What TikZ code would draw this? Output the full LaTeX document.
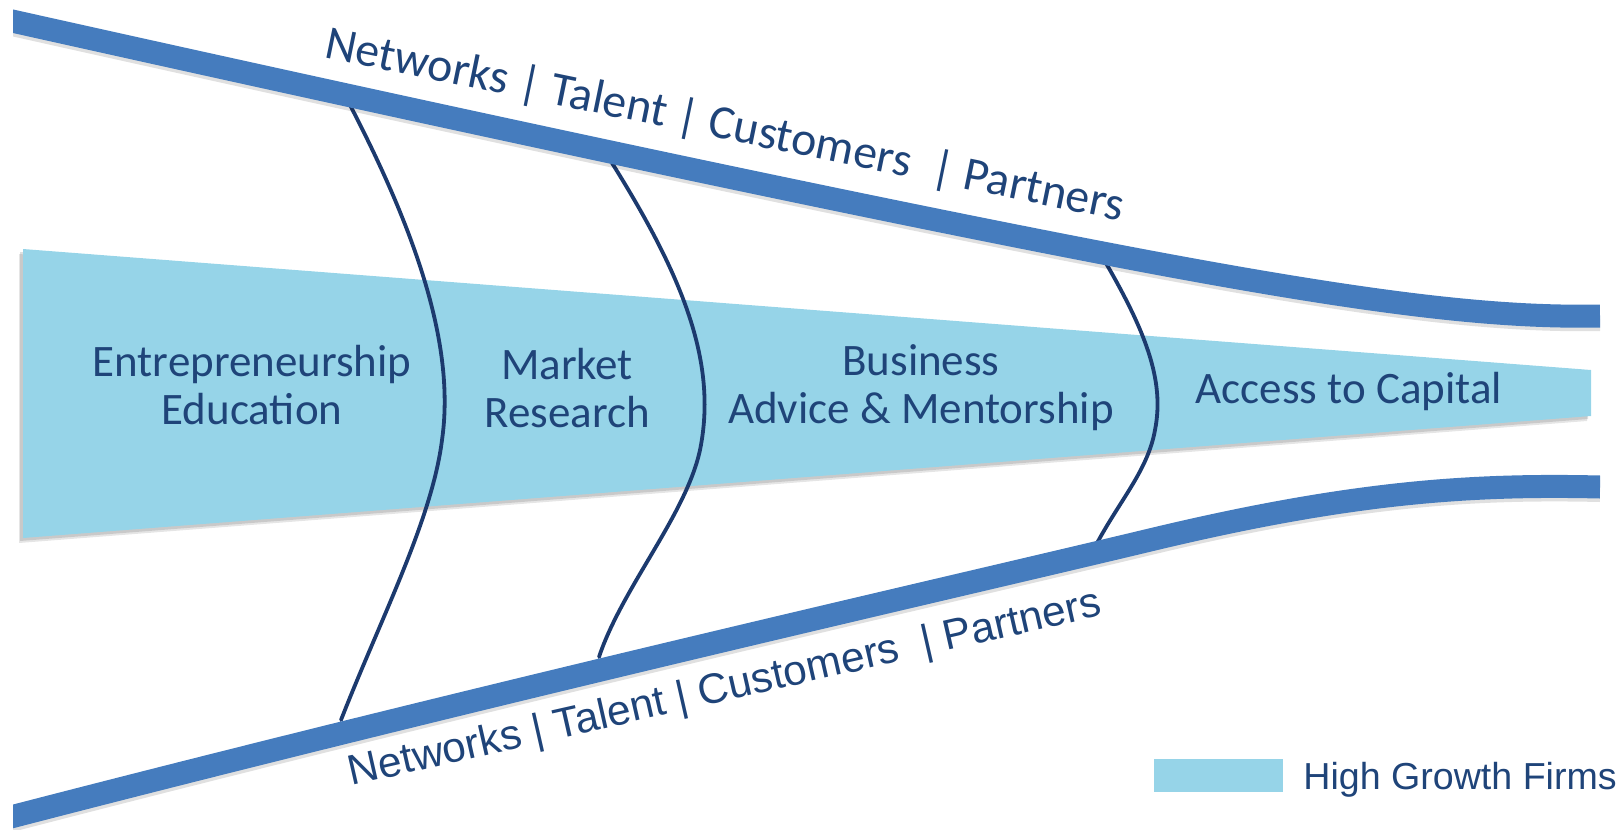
\documentclass[tikz,border=0pt]{standalone}
\usepackage{fontspec}
\setmainfont{Carlito}
\newfontfamily\arialfont{Liberation Sans}
\definecolor{bandblue}{RGB}{69,124,190}
\definecolor{funnelblue}{RGB}{150,212,232}
\definecolor{navy}{RGB}{28,58,110}
\definecolor{textblue}{RGB}{31,68,121}
\begin{document}
\begin{tikzpicture}[x=0.5pt,y=-0.5pt,
  band/.style={draw=bandblue, line width=11.5pt},
  bandshade/.style={draw=black, line width=11pt, opacity=0.12},
  divider/.style={draw=navy, line width=1.9pt, line cap=round},
  stage/.style={text=textblue, font=\fontsize{22.5}{24}\selectfont, align=center, inner sep=0pt},
  flowtext/.style={text=textblue, inner sep=0pt}]

\useasboundingbox (0,0) rectangle (1619,830);

% soft shadow under the funnel
\fill[black, opacity=0.10] (19,254) -- (1587,375) -- (1587,421) -- (19,543) -- cycle;
\fill[black, opacity=0.12] (20,252) -- (1588,373) -- (1588,419) -- (20,541) -- cycle;
% funnel of support stages
\fill[funnelblue] (23,249) -- (1591,370) -- (1591,416) -- (23,538) -- cycle;

% stage dividers
\draw[divider] (350,105) .. controls (420,240) and (455,350) .. (442,440)
                       .. controls (432,520) and (380,620) .. (341,720);
\draw[divider] (612,163) .. controls (682,275) and (718,362) .. (700,450)
                       .. controls (686,515) and (622,588) .. (599,657);
\draw[divider] (1103,258) .. controls (1145,330) and (1165,380) .. (1155,430)
                        .. controls (1148,470) and (1120,500) .. (1096,545);

% upper and lower bands with their shadows
\begin{scope}
  \clip (13,0) rectangle (1600,830);
  \draw[bandshade] (3,23) .. controls (500,134) and (900,219) .. (1150,266)
        .. controls (1380,309) and (1500,322) .. (1600,320);
  \draw[bandshade] (3,823) .. controls (500,694) and (950,592) .. (1150,544)
        .. controls (1350,496) and (1470,488) .. (1600,491);
  \draw[band] (3,19) .. controls (500,130) and (900,215) .. (1150,262)
        .. controls (1380,305) and (1500,318) .. (1600,316);
  \draw[band] (3,819) .. controls (500,690) and (950,588) .. (1150,540)
        .. controls (1350,492) and (1470,484) .. (1600,487);
\end{scope}

% stage labels
\node[stage] (edu) at (252,385) {Entrepreneurship\\Education};
\node[stage] (mkt) at (567,388) {Market\\Research};
\node[stage] (biz) at (921,388) {Business\\Advice \& Mentorship};
\node[stage] (cap) at (1349,392) {Access to Capital};

% labels along the bands
\node[flowtext, font=\fontsize{23.9}{24}\selectfont, rotate=-11.6] (toplabel) at (725,126)
  {Networks | Talent | Customers~ | Partners};
\node[flowtext, font=\arialfont\fontsize{21.2}{24}\selectfont, rotate=12.8] (bottomlabel) at (725,690)
  {Networks | Talent | Customers~ | Partners};

% legend
\node[fill=funnelblue, minimum width=64.5pt, minimum height=16.5pt, inner sep=0pt] (key) at (1218.5,775.5) {};
\node[text=textblue, font=\arialfont\fontsize{18.8}{22}\selectfont, anchor=base west, inner sep=0pt] (keytext) at (1303,789) {High Growth Firms};
\end{tikzpicture}
\end{document}
